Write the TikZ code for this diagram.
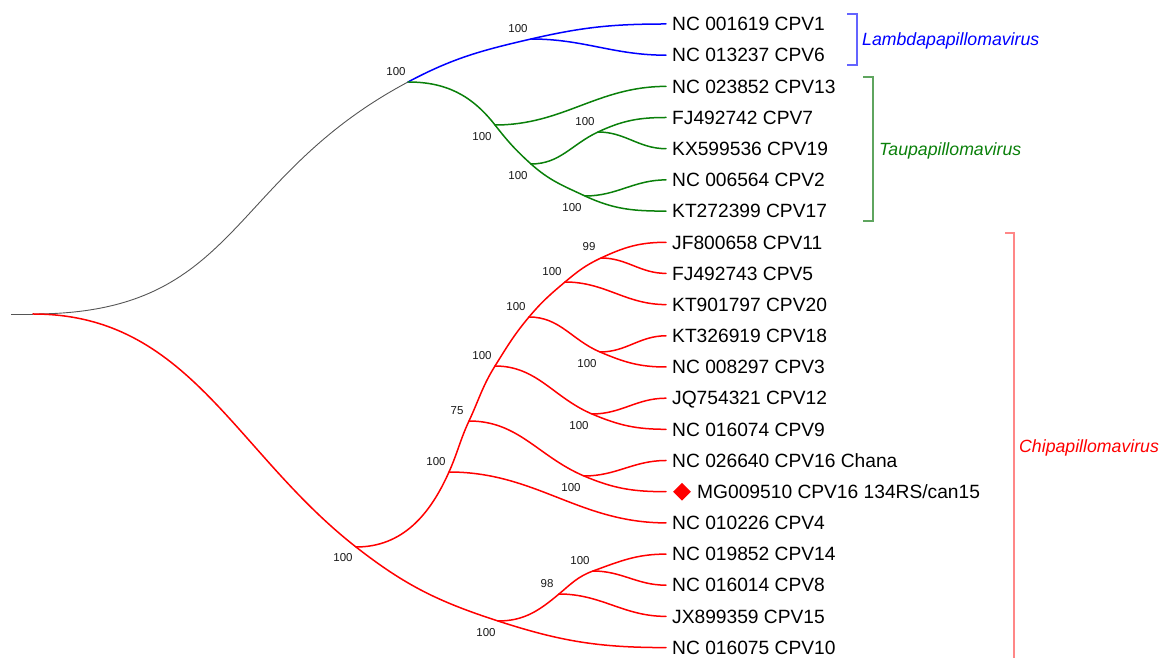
\documentclass[tikz,border=0pt]{standalone}
\usepackage{fontspec}
\setmainfont{Liberation Sans}
\usetikzlibrary{shapes.geometric}
\definecolor{cpblue}{RGB}{0,0,255}
\definecolor{cpgreen}{RGB}{10,128,10}
\definecolor{cpred}{RGB}{255,0,0}
\definecolor{cpgray}{RGB}{85,85,85}
\definecolor{bkblue}{RGB}{100,100,255}
\definecolor{bkgreen}{RGB}{95,165,95}
\definecolor{bkred}{RGB}{255,135,135}
\begin{document}
\begin{tikzpicture}[x=1pt,y=1pt,
  br/.style={line width=1.5pt, line cap=round},
  bblk/.style={line width=0.9pt, draw=cpgray},
  bblue/.style={br, draw=cpblue},
  bgreen/.style={br, draw=cpgreen},
  bred/.style={br, draw=cpred},
  leaf/.style={anchor=west, inner xsep=6pt, inner ysep=0pt, text height=13.6pt, text depth=0pt, font=\fontsize{19.2}{22}\selectfont},
  bs/.style={inner sep=0pt, text height=8.2pt, text depth=0pt, font=\fontsize{11.5}{13}\selectfont, text=black!90},
  genus/.style={anchor=west, inner sep=0pt, text height=12.7pt, text depth=0pt, font=\fontsize{17.7}{20}\selectfont\itshape},
  bracket/.style={line width=1.2pt}]
\useasboundingbox (0,0) rectangle (1162,658);

% leaves
\node[leaf] (l0)  at (666,634.0) {NC 001619 CPV1};
\node[leaf] (l1)  at (666,602.8) {NC 013237 CPV6};
\node[leaf] (l2)  at (666,571.6) {NC 023852 CPV13};
\node[leaf] (l3)  at (666,540.5) {FJ492742 CPV7};
\node[leaf] (l4)  at (666,509.3) {KX599536 CPV19};
\node[leaf] (l5)  at (666,478.1) {NC 006564 CPV2};
\node[leaf] (l6)  at (666,446.9) {KT272399 CPV17};
\node[leaf] (l7)  at (666,415.7) {JF800658 CPV11};
\node[leaf] (l8)  at (666,384.6) {FJ492743 CPV5};
\node[leaf] (l9)  at (666,353.4) {KT901797 CPV20};
\node[leaf] (l10) at (666,322.2) {KT326919 CPV18};
\node[leaf] (l11) at (666,291.0) {NC 008297 CPV3};
\node[leaf] (l12) at (666,259.8) {JQ754321 CPV12};
\node[leaf] (l13) at (666,228.7) {NC 016074 CPV9};
\node[leaf] (l14) at (666,197.5) {NC 026640 CPV16 Chana};
\node[leaf] (l15) at (666,166.3) {\hspace*{25pt}MG009510 CPV16 134RS/can15};
\node[leaf] (l16) at (666,135.1) {NC 010226 CPV4};
\node[leaf] (l17) at (666,103.9) {NC 019852 CPV14};
\node[leaf] (l18) at (666,72.8)  {NC 016014 CPV8};
\node[leaf] (l19) at (666,41.6)  {JX899359 CPV15};
\node[leaf] (l20) at (666,10.4)  {NC 016075 CPV10};
\node[diamond, fill=cpred, inner sep=0pt, minimum size=18pt] (dm) at (682,166.3) {};

% internal nodes
\coordinate (s0) at (11,344);
\coordinate (R) at (33,344);
\coordinate (A) at (408,576);
\coordinate (B) at (531,619);
\coordinate (G1) at (495,533);
\coordinate (G2) at (531,494);
\coordinate (G3) at (585,462);
\coordinate (G4) at (598,526);
\coordinate (C0) at (356,111);
\coordinate (C1) at (449,186);
\coordinate (C2) at (469,237);
\coordinate (C3) at (495,292);
\coordinate (C4) at (529,341);
\coordinate (C5) at (565,376);
\coordinate (C9) at (601,400);
\coordinate (C6) at (600,306);
\coordinate (C7) at (592,244);
\coordinate (C8) at (584,182);
\coordinate (C10) at (498,37);
\coordinate (C11) at (559,64);
\coordinate (C12) at (593,87);

% black
\draw[bblk] (s0) -- (R);
\draw[bblk] (R) to[out=0,in=208,looseness=1.2] (A);

% blue
\draw[bblue] (A) to[out=28,in=193] (B);
\draw[bblue] (B) to[out=13,in=180] (l0.west);
\draw[bblue] (B) to[out=0,in=180] (l1.west);

% green
\draw[bgreen] (A) to[out=0,in=128] (G1);
\draw[bgreen] (G1) to[out=0,in=180] (l2.west);
\draw[bgreen] (G1) to[out=-52,in=138] (G2);
\draw[bgreen] (G2) to[out=0,in=205] (G4);
\draw[bgreen] (G4) to[out=25,in=180] (l3.west);
\draw[bgreen] (G4) to[out=0,in=180] (l4.west);
\draw[bgreen] (G2) to[out=-42,in=155] (G3);
\draw[bgreen] (G3) to[out=0,in=180] (l5.west);
\draw[bgreen] (G3) to[out=-25,in=180] (l6.west);

% red
\draw[bred] (R) to[out=0,in=142] (C0);
\draw[bred] (C0) to[out=0,in=246] (C1);
\draw[bred] (C1) to[out=0,in=180] (l16.west);
\draw[bred] (C1) to[out=66,in=245] (C2);
\draw[bred] (C2) to[out=0,in=157] (C8);
\draw[bred] (C8) to[out=0,in=180] (l14.west);
\draw[bred] (C8) to[out=-23,in=180] (l15.west);
\draw[bred] (C2) to[out=65,in=238] (C3);
\draw[bred] (C3) to[out=0,in=157] (C7);
\draw[bred] (C7) to[out=0,in=180] (l12.west);
\draw[bred] (C7) to[out=-23,in=180] (l13.west);
\draw[bred] (C3) to[out=58,in=230] (C4);
\draw[bred] (C4) to[out=0,in=157] (C6);
\draw[bred] (C6) to[out=0,in=180] (l10.west);
\draw[bred] (C6) to[out=-23,in=180] (l11.west);
\draw[bred] (C4) to[out=50,in=220] (C5);
\draw[bred] (C5) to[out=0,in=180] (l9.west);
\draw[bred] (C5) to[out=40,in=205] (C9);
\draw[bred] (C9) to[out=25,in=180] (l7.west);
\draw[bred] (C9) to[out=0,in=180] (l8.west);
\draw[bred] (C0) to[out=-38,in=162] (C10);
\draw[bred] (C10) to[out=-18,in=180] (l20.west);
\draw[bred] (C10) to[out=0,in=220] (C11);
\draw[bred] (C11) to[out=0,in=180] (l19.west);
\draw[bred] (C11) to[out=40,in=200] (C12);
\draw[bred] (C12) to[out=20,in=180] (l17.west);
\draw[bred] (C12) to[out=0,in=180] (l18.west);

% bootstrap values
\node[bs] (bA)   at (396,587) {100};
\node[bs] (bB)   at (518,630) {100};
\node[bs] (bG1)  at (482,522) {100};
\node[bs] (bG2)  at (518,483) {100};
\node[bs] (bG4)  at (585,537) {100};
\node[bs] (bG3)  at (572,451) {100};
\node[bs] (bC9)  at (589,412) {99};
\node[bs] (bC5)  at (552,387) {100};
\node[bs] (bC4)  at (516,352) {100};
\node[bs] (bC6)  at (587,295) {100};
\node[bs] (bC3)  at (482,303) {100};
\node[bs] (bC7)  at (579,233) {100};
\node[bs] (bC2)  at (457,248) {75};
\node[bs] (bC1)  at (436,197) {100};
\node[bs] (bC8)  at (571,171) {100};
\node[bs] (bC0)  at (343,101) {100};
\node[bs] (bC12) at (580,98)  {100};
\node[bs] (bC11) at (547,75)  {98};
\node[bs] (bC10) at (486,26)  {100};

% brackets and genus names
\draw[bracket, draw=bkblue] (847,644) -- (857,644) -- (857,593) -- (847,593);
\node[genus, text=cpblue] (gL) at (862,619) {Lambdapapillomavirus};
\draw[bracket, draw=bkgreen] (863,581) -- (873,581) -- (873,437) -- (863,437);
\node[genus, text=cpgreen] (gT) at (879,509) {Taupapillomavirus};
\draw[bracket, draw=bkred] (1005,425) -- (1014,425) -- (1014,-2);
\node[genus, text=cpred] (gC) at (1019,212) {Chipapillomavirus};
\end{tikzpicture}
\end{document}
